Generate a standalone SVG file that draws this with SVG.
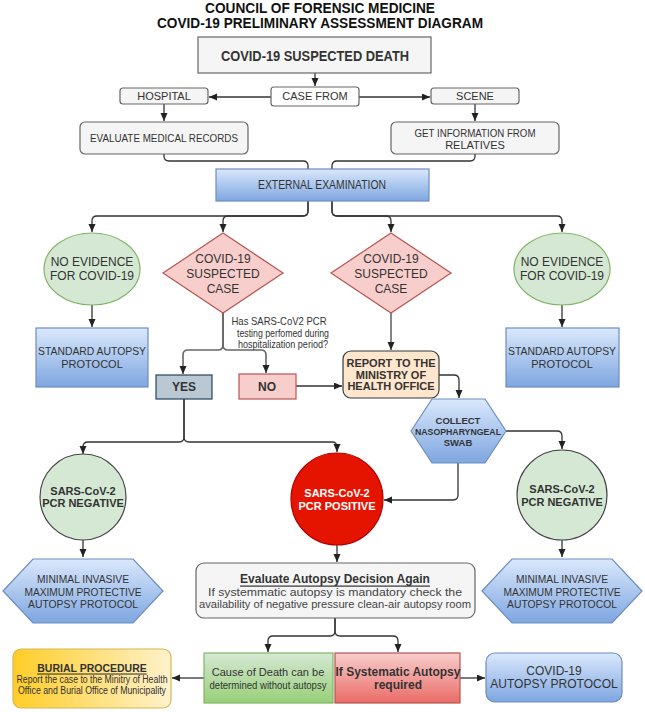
<svg xmlns="http://www.w3.org/2000/svg" width="645" height="712" viewBox="0 0 645 712">
<defs>
<linearGradient id="gBlue" x1="0" y1="0" x2="0" y2="1"><stop offset="0" stop-color="#dae8fc"/><stop offset="1" stop-color="#7ea6e0"/></linearGradient>
<linearGradient id="gGreen" x1="0" y1="0" x2="0" y2="1"><stop offset="0" stop-color="#d5e8d4"/><stop offset="1" stop-color="#97d077"/></linearGradient>
<linearGradient id="gRed" x1="0" y1="0" x2="0" y2="1"><stop offset="0" stop-color="#f8cecc"/><stop offset="1" stop-color="#ea6b66"/></linearGradient>
<linearGradient id="gYellow" x1="0" y1="0" x2="1" y2="0"><stop offset="0" stop-color="#ffcd28"/><stop offset="1" stop-color="#fff2cc"/></linearGradient>
<marker id="arr" markerUnits="userSpaceOnUse" markerWidth="9" markerHeight="8" refX="8" refY="3.5" orient="auto"><path d="M0,0 L8,3.5 L0,7 z" fill="#222"/></marker>
<style>
text{font-family:"Liberation Sans",Arial,sans-serif;fill:#333;text-anchor:middle;dominant-baseline:central}
.t{font-size:14px;font-weight:bold;fill:#111}
.n10{font-size:10.5px}
.n11{font-size:11px}
.n12{font-size:12px}
.b11{font-size:11px;font-weight:bold}
.b12{font-size:12px;font-weight:bold}
.grey{fill:#f5f5f5;stroke:#666;stroke-width:1.2}
.blue{fill:url(#gBlue);stroke:#6c8ebf;stroke-width:1.2}
.ell{fill:#d5e8d4;stroke:#82b366;stroke-width:1.2}
.dia{fill:#f8cecc;stroke:#b85450;stroke-width:1.2}
.circ{fill:#d5e8d4;stroke:#444;stroke-width:1.2}
.e path{fill:none;stroke:#333;stroke-width:1.3;marker-end:url(#arr)}
.e path.na{marker-end:none}
.e path.g{stroke:#666;stroke-width:1.6}
</style>
</defs>
<rect width="645" height="712" fill="#fff"/>
<g id="title">
<text class="t" x="320" y="8" textLength="230" lengthAdjust="spacingAndGlyphs">COUNCIL OF FORENSIC MEDICINE</text>
<text class="t" x="320" y="23" textLength="326" lengthAdjust="spacingAndGlyphs">COVID-19 PRELIMINARY ASSESSMENT DIAGRAM</text>
</g>
<g class="e" id="connectors">
<path d="M315,73 V86"/>
<path d="M271,97 H209"/>
<path d="M359,97 H430"/>
<path d="M164,104 V121"/>
<path d="M475,104 V121"/>
<path class="na" d="M164,154 V156 Q164,161 169,161 H303 Q308,161 308,166 V169"/>
<path class="na" d="M475,154 V156 Q475,161 470,161 H337 Q332,161 332,166 V169"/>
<path d="M308,201 V211 Q308,216 303,216 H97 Q92,216 92,221 V232"/>
<path d="M308,201 V211 Q308,216 303,216 H228 Q223,216 223,221 V232"/>
<path d="M332,201 V211 Q332,216 337,216 H557 Q562,216 562,221 V232"/>
<path d="M332,201 V211 Q332,216 337,216 H386 Q391,216 391,221 V232"/>
<path d="M92,305 V327"/>
<path d="M562,305 V327"/>
<path class="g" d="M223,313 V345 Q223,350 218,350 H188 Q183,350 183,355 V374"/>
<path class="g" d="M223,313 V345 Q223,350 228,350 H261 Q266,350 266,355 V373"/>
<path class="g" d="M391,313 V350"/>
<path d="M296,386 H342"/>
<path d="M439,375 H454 Q459,375 459,380 V398"/>
<path d="M184,399 V437 Q184,442 179,442 H88 Q83,442 83,447 V454"/>
<path d="M184,399 V437 Q184,442 189,442 H332 Q337,442 337,447 V452"/>
<path d="M506,431 H557 Q562,431 562,436 V449"/>
<path d="M458,463 V495 Q458,500 453,500 H384"/>
<path d="M337,545 V562"/>
<path d="M83,540 V557"/>
<path d="M562,540 V557"/>
<path d="M335,618 V631 Q335,636 330,636 H273 Q268,636 268,641 V652"/>
<path d="M335,618 V631 Q335,636 340,636 H393 Q398,636 398,641 V652"/>
<path d="M204,678 H172"/>
<path d="M460,678 H485"/>
</g>
<g id="suspected-death"><rect class="grey" x="198" y="37" width="233" height="36"/><text class="b12" x="315" y="56" style="font-size:14px" textLength="188" lengthAdjust="spacingAndGlyphs">COVID-19 SUSPECTED DEATH</text></g>
<g id="case-from"><rect x="271" y="87" width="88" height="19" rx="3" fill="#fff" stroke="#666" stroke-width="1.2"/><text class="n11" x="315" y="96">CASE FROM</text></g>
<g id="hospital"><rect class="grey" x="120" y="88" width="88" height="16" rx="3"/><text class="n11" x="164" y="96">HOSPITAL</text></g>
<g id="scene"><rect class="grey" x="431" y="88" width="88" height="16" rx="3"/><text class="n11" x="475" y="96">SCENE</text></g>
<g id="evaluate-records"><rect class="grey" x="80" y="122" width="168" height="32" rx="5"/><text class="n11" x="164" y="138" textLength="148" lengthAdjust="spacingAndGlyphs">EVALUATE MEDICAL RECORDS</text></g>
<g id="get-info"><rect class="grey" x="391" y="122" width="168" height="32" rx="5"/><text class="n11" x="475" y="132.5" textLength="121" lengthAdjust="spacingAndGlyphs">GET INFORMATION FROM</text><text class="n11" x="475" y="144.5">RELATIVES</text></g>
<g id="external-exam"><rect class="blue" x="216" y="169" width="213" height="32"/><text class="n12" x="322" y="185" textLength="128" lengthAdjust="spacingAndGlyphs">EXTERNAL EXAMINATION</text></g>
<g id="no-evidence-left"><ellipse class="ell" cx="92" cy="269" rx="48" ry="36"/><text class="n12" x="92" y="262">NO EVIDENCE</text><text class="n12" x="92" y="276">FOR COVID-19</text></g>
<g id="suspected-case-left"><polygon class="dia" points="223,233 283,273 223,313 163,273"/><text class="n12" x="223" y="259">COVID-19</text><text class="n12" x="223" y="274">SUSPECTED</text><text class="n12" x="223" y="289">CASE</text></g>
<g id="suspected-case-right"><polygon class="dia" points="391,233 451,273 391,313 331,273"/><text class="n12" x="391" y="259">COVID-19</text><text class="n12" x="391" y="274">SUSPECTED</text><text class="n12" x="391" y="289">CASE</text></g>
<g id="no-evidence-right"><ellipse class="ell" cx="562" cy="269" rx="48" ry="36"/><text class="n12" x="562" y="262">NO EVIDENCE</text><text class="n12" x="562" y="276">FOR COVID-19</text></g>
<g id="standard-left"><rect class="blue" x="36" y="328" width="112" height="59"/><text class="n11" x="92" y="351" textLength="108" lengthAdjust="spacingAndGlyphs">STANDARD AUTOPSY</text><text class="n11" x="92" y="364">PROTOCOL</text></g>
<g id="standard-right"><rect class="blue" x="506" y="328" width="113" height="59"/><text class="n11" x="562" y="351" textLength="108" lengthAdjust="spacingAndGlyphs">STANDARD AUTOPSY</text><text class="n11" x="562" y="364">PROTOCOL</text></g>
<g id="question"><text class="n10" x="279" y="321" textLength="95" lengthAdjust="spacingAndGlyphs">Has SARS-CoV2 PCR</text><text class="n10" x="283" y="333" textLength="92" lengthAdjust="spacingAndGlyphs">testing perfomed during</text><text class="n10" x="283" y="344" textLength="90" lengthAdjust="spacingAndGlyphs">hospitalization period?</text></g>
<g id="yes"><rect x="156" y="375" width="56" height="24" fill="#bac8d3" stroke="#23445d" stroke-width="1.2"/><text class="b12" x="184" y="387">YES</text></g>
<g id="no"><rect x="239" y="374" width="57" height="25" fill="#f8cecc" stroke="#b85450" stroke-width="1.2"/><text class="b12" x="267" y="387">NO</text></g>
<g id="report"><rect x="343" y="351" width="96" height="47" rx="8" fill="#ffe6cc" stroke="#36393d" stroke-width="1.2"/><text class="b11" x="391" y="363">REPORT TO THE</text><text class="b11" x="391" y="374.5">MINISTRY OF</text><text class="b11" x="391" y="386">HEALTH OFFICE</text></g>
<g id="collect-swab"><polygon class="blue" points="411,431 432,399 485,399 506,431 485,463 432,463"/><text class="b11" x="458" y="420" style="font-size:9.5px">COLLECT</text><text class="b11" x="458" y="431" style="font-size:9.5px" textLength="86" lengthAdjust="spacingAndGlyphs">NASOPHARYNGEAL</text><text class="b11" x="458" y="442" style="font-size:9.5px">SWAB</text></g>
<g id="pcr-negative-left"><circle class="circ" cx="83" cy="497" r="43"/><text class="b11" x="83" y="491">SARS-CoV-2</text><text class="b11" x="83" y="503">PCR NEGATIVE</text></g>
<g id="pcr-positive"><circle cx="337" cy="499" r="46" fill="#e51400" stroke="#b20000" stroke-width="1.2"/><text class="b11" x="337" y="493" style="fill:#fff">SARS-CoV-2</text><text class="b11" x="337" y="506" style="fill:#fff">PCR POSITIVE</text></g>
<g id="pcr-negative-right"><circle class="circ" cx="562" cy="495" r="45"/><text class="b11" x="562" y="489">SARS-CoV-2</text><text class="b11" x="562" y="502">PCR NEGATIVE</text></g>
<g id="minimal-left"><polygon class="blue" points="3,591 33,559 133,559 163,591 133,623 33,623"/><text class="n11" x="83" y="579" textLength="92" lengthAdjust="spacingAndGlyphs">MINIMAL INVASIVE</text><text class="n11" x="83" y="591.5" textLength="117" lengthAdjust="spacingAndGlyphs">MAXIMUM PROTECTIVE</text><text class="n11" x="83" y="604" textLength="110" lengthAdjust="spacingAndGlyphs">AUTOPSY PROTOCOL</text></g>
<g id="minimal-right"><polygon class="blue" points="482,591 512,559 612,559 642,591 612,623 512,623"/><text class="n11" x="562" y="579" textLength="92" lengthAdjust="spacingAndGlyphs">MINIMAL INVASIVE</text><text class="n11" x="562" y="591.5" textLength="117" lengthAdjust="spacingAndGlyphs">MAXIMUM PROTECTIVE</text><text class="n11" x="562" y="604" textLength="110" lengthAdjust="spacingAndGlyphs">AUTOPSY PROTOCOL</text></g>
<g id="evaluate-decision"><rect class="grey" x="196" y="563" width="279" height="55" rx="8"/><text class="b12" x="335" y="578.5" text-decoration="underline">Evaluate Autopsy Decision Again</text><text class="n11" x="335" y="591.5" style="fill:#444" textLength="254" lengthAdjust="spacingAndGlyphs">If systemmatic autopsy is mandatory check the</text><text class="n11" x="335" y="604" style="fill:#444" textLength="272" lengthAdjust="spacingAndGlyphs">availability of negative pressure clean-air autopsy room</text></g>
<g id="burial"><rect x="13" y="649" width="158" height="59" rx="8" fill="url(#gYellow)" stroke="#d6b656" stroke-width="1.2"/><text class="b11" x="92" y="667.5" style="font-size:10.5px" text-decoration="underline">BURIAL PROCEDURE</text><text class="n11" x="92" y="679" style="font-size:10px" textLength="151" lengthAdjust="spacingAndGlyphs">Report the case to the Minitry of Health</text><text class="n11" x="92" y="690" style="font-size:10px" textLength="148" lengthAdjust="spacingAndGlyphs">Office and Burial Office of Municipality</text></g>
<g id="cause-of-death"><rect x="204" y="653" width="129" height="50" fill="url(#gGreen)" stroke="#82b366" stroke-width="1.2"/><text class="n11" x="268" y="672">Cause of Death can be</text><text class="n11" x="268" y="685" textLength="117" lengthAdjust="spacingAndGlyphs">determined without autopsy</text></g>
<g id="systematic"><rect x="335" y="653" width="125" height="50" fill="url(#gRed)" stroke="#b85450" stroke-width="1.2"/><text class="b12" x="398" y="672">If Systematic Autopsy</text><text class="b12" x="398" y="685">required</text></g>
<g id="covid-autopsy"><rect class="blue" x="486" y="653" width="136" height="49" rx="9"/><text class="n12" x="554" y="671">COVID-19</text><text class="n12" x="554" y="684">AUTOPSY PROTOCOL</text></g>
</svg>
